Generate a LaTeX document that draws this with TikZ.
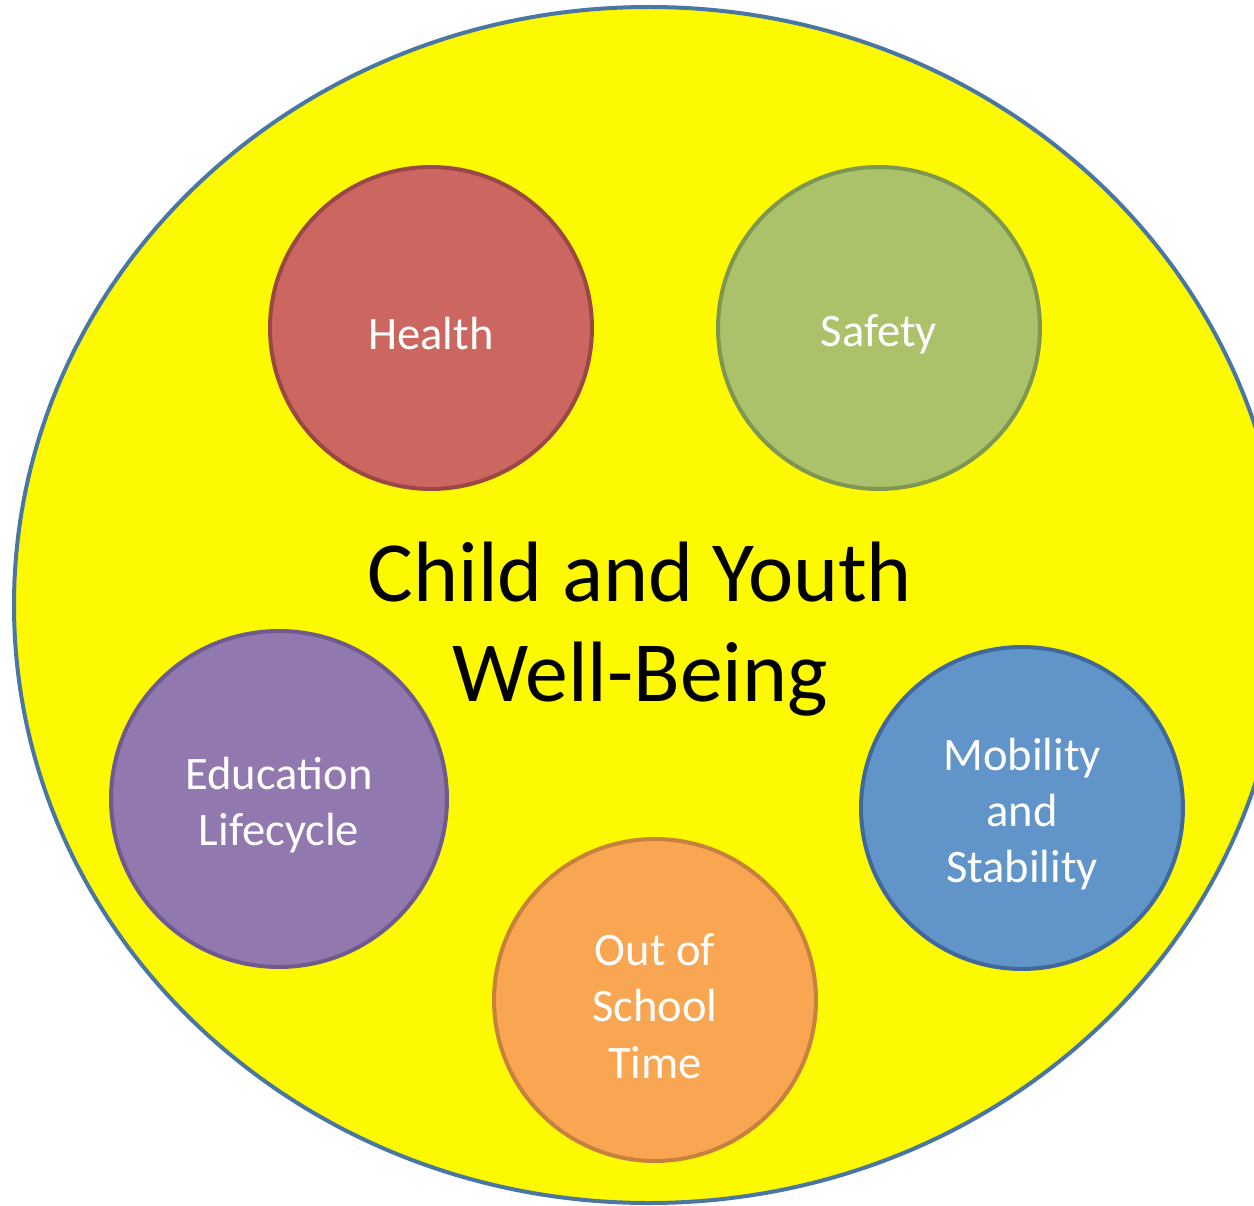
\documentclass[tikz,border=0pt]{standalone}
\usepackage{fontspec}
\setmainfont{Carlito}
\definecolor{bigyellow}{HTML}{FDF900}
\definecolor{bigblue}{HTML}{4A76A4}
\definecolor{healthfill}{HTML}{CC6660}
\definecolor{healthline}{HTML}{9A4845}
\definecolor{safetyfill}{HTML}{ABC26A}
\definecolor{safetyline}{HTML}{7E9650}
\definecolor{educfill}{HTML}{9179AF}
\definecolor{educline}{HTML}{6E5A8C}
\definecolor{oostfill}{HTML}{F8A652}
\definecolor{oostline}{HTML}{C6813E}
\definecolor{mobfill}{HTML}{6195C9}
\definecolor{mobline}{HTML}{41689A}
\newcommand{\topstrut}{\rule{0pt}{0.88cm}}
\begin{document}
\begin{tikzpicture}[x=0.02cm,y=-0.02cm]

      \useasboundingbox (0,0) rectangle (1254,1206);
      \clip (0,0) rectangle (1254,1206);

      \draw[bigblue, fill=bigyellow, line width=0.08cm] (649,605) ellipse [x radius=635, y radius=598];

      \node (title) at (640,629) [align=center, font=\fontsize{48.8}{57}\selectfont] {Child and Youth\\Well-Being};

      \begin{scope}[every node/.style={circle, line width=0.08cm, minimum size=6.44cm,
                    text=white, align=center, font=\fontsize{26.5}{32}\selectfont}]
        \node (health) at (431,328)  [fill=healthfill, draw=healthline] {\topstrut Health};
        \node (safety) at (879,328)  [fill=safetyfill, draw=safetyline] {\topstrut Safety};
        \node (educ)   at (279,799)  [fill=educfill, draw=educline, minimum size=6.72cm] {\topstrut Education\\Lifecycle};
        \node (oost)   at (655,1000) [fill=oostfill, draw=oostline] {\topstrut Out of\\School\\Time};
        \node (mob)    at (1022,808) [fill=mobfill, draw=mobline] {\topstrut Mobility\\and\\Stability};
      \end{scope}

    \end{tikzpicture}
\end{document}
